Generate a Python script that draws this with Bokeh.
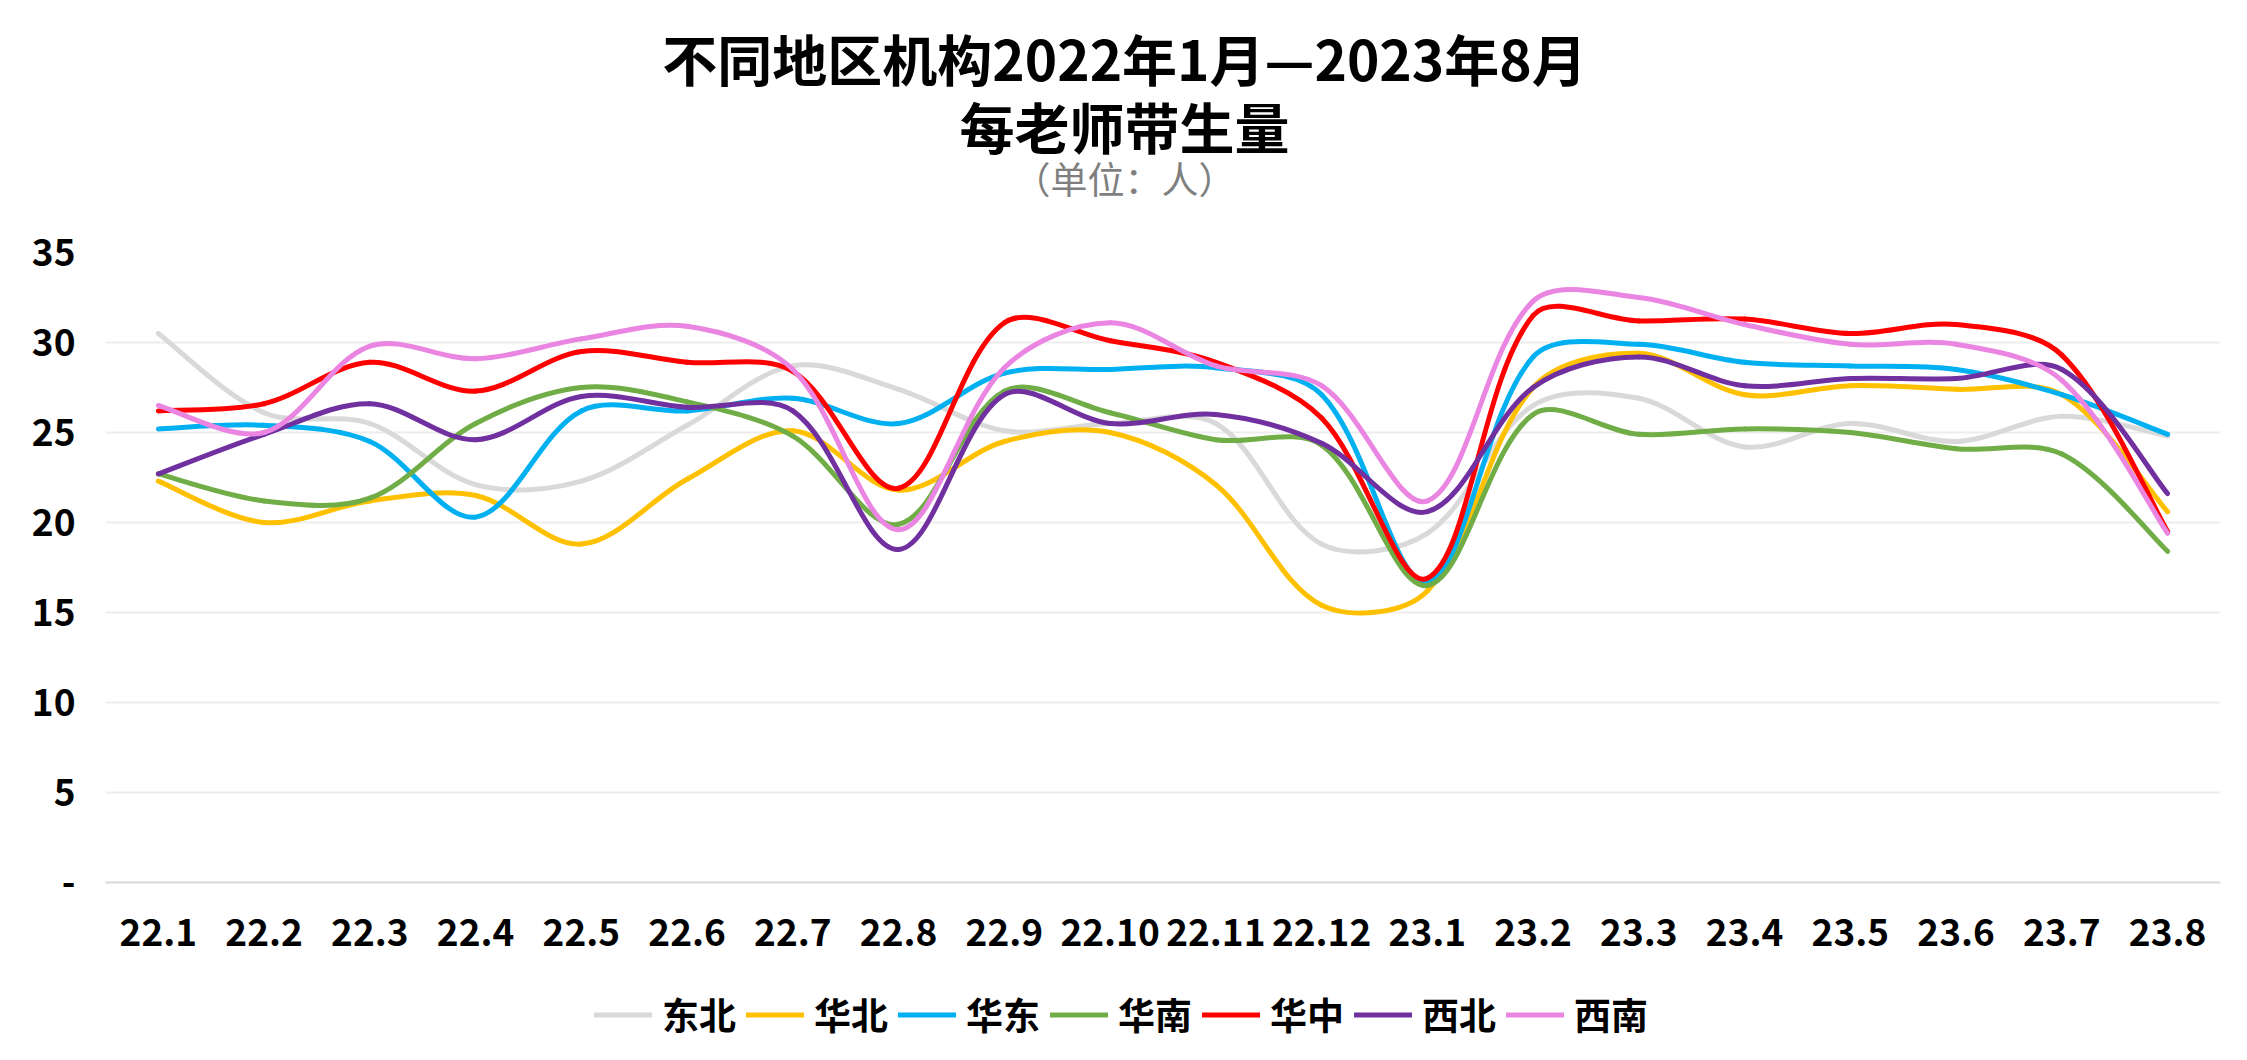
import numpy as np
from bokeh.plotting import figure
from bokeh.layouts import column
from bokeh.models import Legend, LegendItem, Label, FixedTicker, ColumnDataSource
from bokeh.embed import file_html
from bokeh.resources import INLINE

months = ["22.1", "22.2", "22.3", "22.4", "22.5", "22.6", "22.7", "22.8", "22.9", "22.10",
          "22.11", "22.12", "23.1", "23.2", "23.3", "23.4", "23.5", "23.6", "23.7", "23.8"]

dongbei = [30.5, 26.1, 25.5, 22.1, 22.3, 25.4, 28.7, 27.4, 25.1, 25.5, 25.5, 18.8, 19.4, 26.5, 26.9, 24.2, 25.5, 24.5, 25.9, 24.8]
huabei = [22.3, 20.0, 21.2, 21.5, 18.8, 22.4, 25.1, 21.8, 24.5, 25.0, 22.1, 15.4, 16.2, 27.5, 29.4, 27.1, 27.6, 27.4, 27.1, 20.6]
huadong = [25.2, 25.4, 24.5, 20.3, 26.2, 26.2, 26.9, 25.5, 28.3, 28.5, 28.6, 27.1, 16.7, 29.2, 29.9, 28.9, 28.7, 28.5, 27.1, 24.9]
huanan = [22.7, 21.2, 21.35, 25.5, 27.5, 26.7, 24.8, 19.9, 27.3, 26.1, 24.6, 24.3, 16.5, 26.0, 24.9, 25.2, 25.0, 24.1, 23.8, 18.4]
huazhong = [26.2, 26.6, 28.9, 27.3, 29.5, 28.9, 28.4, 21.9, 31.1, 30.1, 28.9, 25.8, 16.9, 31.5, 31.2, 31.3, 30.5, 31.0, 29.3, 19.5]
xibei = [22.7, 24.9, 26.6, 24.6, 27.0, 26.4, 26.2, 18.5, 27.1, 25.5, 26.0, 24.4, 20.6, 27.5, 29.2, 27.6, 28.0, 28.0, 28.5, 21.6]
xinan = [26.5, 25.0, 29.8, 29.1, 30.2, 30.9, 28.5, 19.6, 28.6, 31.1, 28.7, 27.6, 21.2, 32.3, 32.5, 31.0, 29.9, 29.9, 27.9, 19.4]

series_names = ["东北", "华北", "华东", "华南", "华中", "西北", "西南"]
series_values = [dongbei, huabei, huadong, huanan, huazhong, xibei, xinan]
series_colors = ["#D9D9D9", "#FFC000", "#00B0F0", "#70AD47", "#FF0000", "#7030A0", "#EA85E2"]

title_line1 = "不同地区机构2022年1月—2023年8月"
title_line2 = "每老师带生量"
subtitle = "（单位：人）"

y_ticks = [0, 5, 10, 15, 20, 25, 30, 35]
y_labels = {0: "-"}

FONT = "Noto Sans CJK SC"
W = 2231
HEAD_H = 215
MAIN_H = 749
LEG_H = 80
LEFT = 105
RIGHT = 11
FRAME_W = W - LEFT - RIGHT
FRAME_H = 630
TOP = 37
TITLE_CX = 1124 - LEFT   # frames of the stacked figures are aligned to the main frame


def blank(height):
    f = figure(width=W, height=height, output_backend="svg", toolbar_location=None,
               x_range=(0, FRAME_W), y_range=(0, height), min_border=0)
    f.axis.visible = False
    f.grid.visible = False
    f.outline_line_color = None
    f.background_fill_color = "white"
    f.border_fill_color = "white"
    return f


# ---- header with titles ----
head = blank(HEAD_H)
head.add_layout(Label(x=TITLE_CX, y=HEAD_H - 56, text=title_line1, text_align="center", text_baseline="middle",
                      text_font=FONT, text_font_size="55px", text_font_style="bold", text_color="black"))
head.add_layout(Label(x=TITLE_CX, y=HEAD_H - 124, text=title_line2, text_align="center", text_baseline="middle",
                      text_font=FONT, text_font_size="55px", text_font_style="bold", text_color="black"))
head.add_layout(Label(x=TITLE_CX, y=HEAD_H - 177, text=subtitle, text_align="center", text_baseline="middle",
                      text_font=FONT, text_font_size="37px", text_font_style="normal", text_color="#7F7F7F"))

# ---- main chart ----
p = figure(width=W, height=MAIN_H, output_backend="svg", toolbar_location=None,
           x_range=(-0.5, len(months) - 0.5), y_range=(0, 35))
p.min_border_left = LEFT
p.min_border_right = RIGHT
p.min_border_top = TOP
p.min_border_bottom = MAIN_H - TOP - FRAME_H
p.outline_line_color = None
p.background_fill_color = "white"
p.border_fill_color = "white"

# chord-length weighted bezier smoothing (like Excel's smoothed line), in pixel aspect
sx = FRAME_W / len(months)
sy = FRAME_H / 35.0
scale = np.array([sx, sy])

for name, vals, col in zip(series_names, series_values, series_colors):
    n = len(vals)
    P = np.column_stack([np.arange(n, dtype=float), np.array(vals, dtype=float)])
    c_in = np.zeros_like(P)
    c_out = np.zeros_like(P)
    for i in range(n):
        if i == 0:
            c_out[i] = P[i] + (P[1] - P[0]) / 6.0
        elif i == n - 1:
            c_in[i] = P[i] - (P[i] - P[i - 1]) / 6.0
        else:
            T = P[i + 1] - P[i - 1]
            dp = np.linalg.norm((P[i] - P[i - 1]) * scale)
            dn = np.linalg.norm((P[i + 1] - P[i]) * scale)
            c_in[i] = P[i] - T * (dp / (dp + dn)) / 3.0
            c_out[i] = P[i] + T * (dn / (dp + dn)) / 3.0
    src = ColumnDataSource(dict(
        x0=P[:-1, 0], y0=P[:-1, 1], x1=P[1:, 0], y1=P[1:, 1],
        cx0=c_out[:-1, 0], cy0=c_out[:-1, 1], cx1=c_in[1:, 0], cy1=c_in[1:, 1]))
    p.bezier(x0="x0", y0="y0", x1="x1", y1="y1", cx0="cx0", cy0="cy0", cx1="cx1", cy1="cy1",
             source=src, line_color=col, line_width=5, line_cap="round", line_join="round")

p.xaxis.ticker = FixedTicker(ticks=list(range(len(months))))
p.xaxis.major_label_overrides = {i: m for i, m in enumerate(months)}
p.xaxis.major_tick_line_color = None
p.xaxis.minor_tick_line_color = None
p.xaxis.axis_line_color = "#D9D9D9"
p.xaxis.axis_line_width = 2
p.xaxis.major_label_text_font = FONT
p.xaxis.major_label_text_font_size = "37px"
p.xaxis.major_label_text_font_style = "bold"
p.xaxis.major_label_text_color = "black"
p.xaxis.major_label_standoff = 30

p.yaxis.ticker = FixedTicker(ticks=y_ticks)
p.yaxis.major_label_overrides = y_labels
p.yaxis.major_tick_line_color = None
p.yaxis.minor_tick_line_color = None
p.yaxis.axis_line_color = None
p.yaxis.major_label_text_font = FONT
p.yaxis.major_label_text_font_size = "37px"
p.yaxis.major_label_text_font_style = "bold"
p.yaxis.major_label_text_color = "black"
p.yaxis.major_label_standoff = 24

p.xgrid.grid_line_color = None
p.ygrid.grid_line_color = "#EDEDED"
p.ygrid.grid_line_width = 2
p.title = None

# ---- legend strip (series lines drawn off-range so only their legend glyphs show) ----
lg = figure(width=W, height=LEG_H, output_backend="svg", toolbar_location=None,
            x_range=(0, 1), y_range=(0, 1), min_border=0)
lg.axis.visible = False
lg.grid.visible = False
lg.outline_line_color = None
lg.background_fill_color = "white"
lg.border_fill_color = "white"
xi = list(range(len(months)))
leg_renderers = [lg.line(x=xi, y=v, line_color=c, line_width=5, line_cap="round")
                 for v, c in zip(series_values, series_colors)]
items = [LegendItem(label=nm, renderers=[r]) for nm, r in zip(series_names, leg_renderers)]
legend = Legend(items=items, orientation="horizontal", location=(489, 3),
                label_text_font=FONT, label_text_font_size="37px", label_text_font_style="bold",
                label_text_color="black", glyph_width=58, glyph_height=37, label_standoff=10,
                spacing=10, padding=0, margin=0, border_line_color=None, background_fill_alpha=0)
lg.add_layout(legend, "center")

layout = column(head, p, lg, spacing=0, styles={"box-shadow": "-2px -2px 0 0 #D9D9D9"})
open("out.html", "w").write(file_html(layout, INLINE))
